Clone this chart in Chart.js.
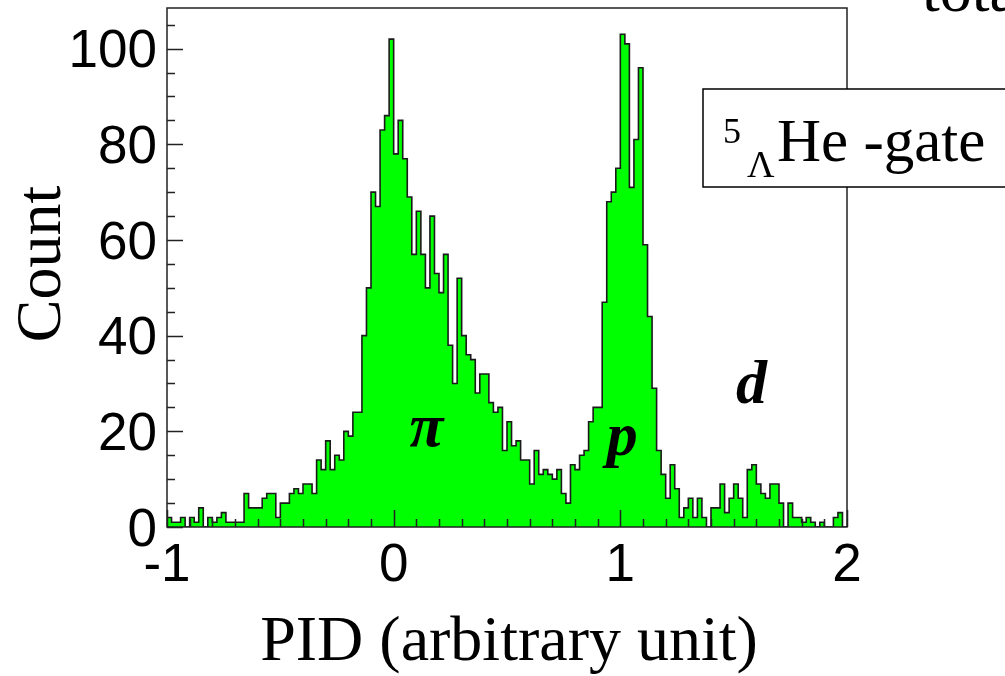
<!DOCTYPE html>
<html>
<head>
<meta charset="utf-8">
<script src="https://cdn.jsdelivr.net/npm/chart.js@4.4.1/dist/chart.umd.min.js"></script>
<style>
  html, body { margin: 0; padding: 0; background: #fff; }
  canvas { display: block; }
</style>
</head>
<body>
<canvas id="pidChart" width="1005" height="676"></canvas>
<script>
// histogram: 150 bins of width 0.02 from -1 to 2
const binStart = -1
const binWidth = 0.02
const counts = [
  2, 1, 1, 2, 0, 2, 1, 4, 0, 2,
  1, 2, 3, 1, 1, 1, 1, 7, 4, 4,
  4, 6, 7, 7, 2, 5, 5, 7, 8, 7,
  9, 9, 7, 14, 12, 18, 12, 15, 14, 20,
  19, 24, 24, 40, 50, 70, 67, 83, 86, 102,
  78, 85, 77, 69, 57, 66, 57, 50, 65, 53,
  49, 57, 38, 30, 52, 40, 36, 35, 28, 32,
  32, 26, 24, 25, 16, 22, 17, 18, 14, 14,
  9, 16, 11, 12, 11, 10, 12, 7, 5, 13,
  12, 15, 16, 22, 25, 25, 47, 68, 70, 75,
  103, 101, 71, 81, 96, 59, 44, 29, 16, 11,
  6, 13, 8, 2, 4, 6, 2, 6, 2, 0,
  4, 4, 9, 3, 6, 9, 6, 2, 12, 13,
  9, 7, 6, 9, 9, 5, 0, 5, 2, 2,
  1, 2, 1, 0, 1, 0, 0, 2, 3, 0
]
const xTickLabels = [-1, 0, 1, 2]
const yTickLabels = [0, 20, 40, 60, 80, 100]
const xTitle = 'PID (arbitrary unit)'
const yTitle = 'Count'
const peakLabels = [
  {text: 'π', x: 0.07, y: 17},
  {text: 'p', x: 0.94, y: 15},
  {text: 'd', x: 1.51, y: 26}
]

const histPoints = counts.map((c, i) => ({x: binStart + i * binWidth, y: c}))
histPoints.push({x: binStart + counts.length * binWidth, y: counts[counts.length - 1]})

const serif = '"Liberation Serif", "Times New Roman", serif'
const sans = '"Liberation Sans", Arial, sans-serif'

// ROOT style frame, inner ticks and the text on the pad
const rootFrame = {
  id: 'rootFrame',
  afterDraw(chart) {
    const {ctx, chartArea: a, scales: {x, y}} = chart
    ctx.save()
    ctx.strokeStyle = '#222'
    ctx.lineWidth = 1.5
    ctx.strokeRect(a.left, a.top, a.right - a.left, a.bottom - a.top)

    ctx.beginPath()
    for (let v = 0; v <= 105; v += 5) {
      const py = Math.round(y.getPixelForValue(v)) + 0.5
      const len = v % 20 === 0 ? 16 : 8
      ctx.moveTo(a.left, py)
      ctx.lineTo(a.left + len, py)
    }
    for (let k = 0; k <= 30; k++) {
      const px = Math.round(x.getPixelForValue(-1 + k * 0.1)) + 0.5
      const len = k % 10 === 0 ? 17 : 8
      ctx.moveTo(px, a.bottom)
      ctx.lineTo(px, a.bottom - len)
    }
    ctx.stroke()

    // axis titles
    ctx.fillStyle = '#000'
    ctx.font = '64px ' + serif
    ctx.textAlign = 'center'
    ctx.textBaseline = 'alphabetic'
    ctx.fillText(xTitle, 509, 660)
    ctx.save()
    ctx.translate(60, 264)
    ctx.rotate(-Math.PI / 2)
    ctx.fillText(yTitle, 0, 0)
    ctx.restore()

    // particle labels
    ctx.font = 'italic bold 62px ' + serif
    ctx.textAlign = 'left'
    peakLabels.forEach(l => {
      ctx.fillText(l.text, x.getPixelForValue(l.x), y.getPixelForValue(l.y))
    })

    // gate label box
    ctx.fillStyle = '#fff'
    ctx.fillRect(703, 89, 310, 98)
    ctx.strokeStyle = '#000'
    ctx.lineWidth = 1.5
    ctx.strokeRect(703, 89, 310, 98)
    ctx.fillStyle = '#000'
    ctx.font = '36px ' + serif
    ctx.fillText('5', 723, 143)
    ctx.font = '38px ' + serif
    ctx.fillText('Λ', 747, 177)
    ctx.font = '61px ' + serif
    ctx.fillText('He -gate', 777, 161)

    // cut-off text at the top right
    ctx.font = '64px ' + serif
    ctx.fillText('total', 922, 11)
    ctx.restore()
  }
}

new Chart(document.getElementById('pidChart'), {
  type: 'line',
  data: {
    datasets: [{
      data: histPoints,
      stepped: true,
      fill: 'origin',
      backgroundColor: '#00ff00',
      borderColor: '#1a1a1a',
      borderWidth: 1.6,
      pointRadius: 0,
      tension: 0
    }]
  },
  options: {
    responsive: false,
    animation: false,
    devicePixelRatio: 1,
    layout: {padding: {left: 0, top: 8, right: 158, bottom: 0}},
    plugins: {legend: {display: false}, tooltip: {enabled: false}},
    scales: {
      x: {
        type: 'linear',
        min: -1,
        max: 2,
        afterFit: s => { s.height = 149; s.paddingLeft = 0; s.paddingRight = 0 },
        afterBuildTicks: s => { s.ticks = xTickLabels.map(v => ({value: v})) },
        grid: {display: false, drawTicks: false},
        border: {display: false},
        ticks: {color: '#000', font: {family: sans, size: 53}, padding: 8, maxRotation: 0, autoSkip: false}
      },
      y: {
        min: 0,
        max: 108.5,
        afterFit: s => { s.width = 167; s.paddingTop = 0; s.paddingBottom = 0 },
        afterBuildTicks: s => { s.ticks = yTickLabels.map(v => ({value: v})) },
        grid: {display: false, drawTicks: false},
        border: {display: false},
        ticks: {color: '#000', font: {family: sans, size: 53}, padding: 10, labelOffset: 4}
      }
    }
  },
  plugins: [rootFrame]
})
</script>
</body>
</html>
